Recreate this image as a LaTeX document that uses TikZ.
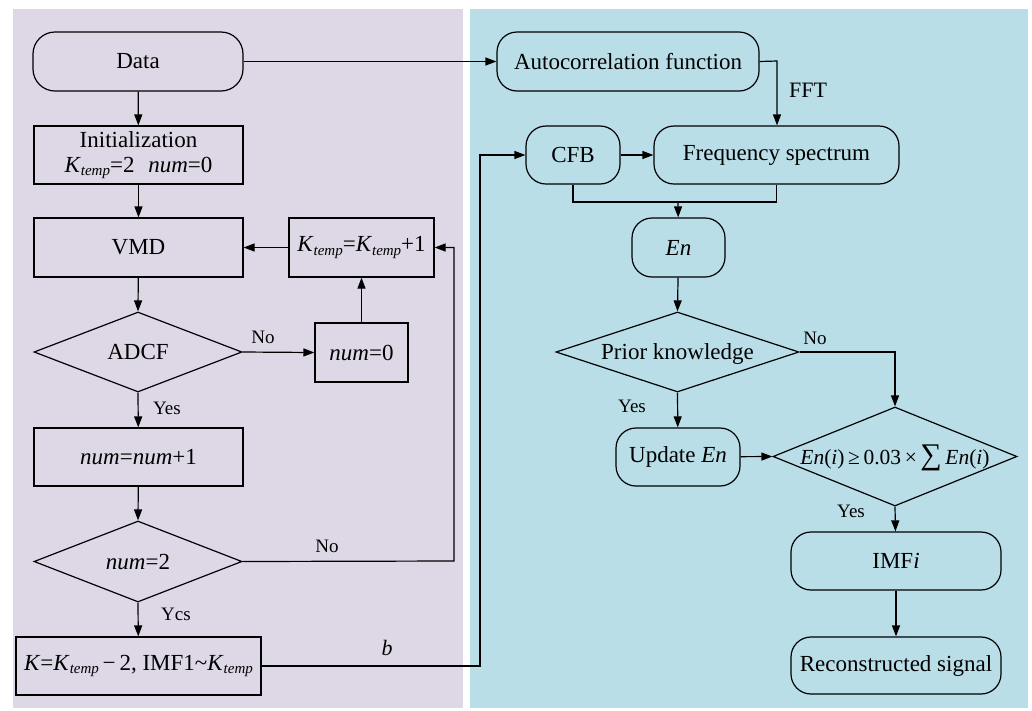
\documentclass[tikz,border=0pt]{standalone}
\usepackage{fontspec}
\setmainfont{Liberation Serif}
\usetikzlibrary{shapes.geometric,arrows.meta}
\newcommand{\mysub}[1]{\raisebox{-0.3ex}{\fontsize{15}{15}\selectfont\itshape #1}}
\newcommand{\Ktp}{\textit{K}\mysub{temp}}
\newcommand{\dtext}[1]{\makebox[0pt]{\raisebox{-0.33em}[0pt][0pt]{#1}}}
\definecolor{panelL}{RGB}{222,216,230}
\definecolor{panelR}{RGB}{185,222,232}
\tikzset{
  mainfont/.style={font=\fontsize{23}{27}\selectfont},
  box/.style={draw, line width=1.2pt, inner sep=0pt, mainfont, align=center},
  rbox/.style={box, rounded corners=20pt},
  dia/.style={draw, diamond, line width=1.2pt, inner sep=0pt, mainfont},
  arr/.style={line width=1.2pt, -{Triangle[length=11pt,width=8pt]}},
  ln/.style={line width=1.2pt},
  lab/.style={font=\fontsize{19}{19}\selectfont, inner sep=0pt},
}
\begin{document}
\begin{tikzpicture}[x=1pt,y=-1pt]
\useasboundingbox (0,0) rectangle (1032,710);
\fill[panelL] (13,9) rectangle (463,708);
\fill[panelR] (470,9) rectangle (1028,708);
% left column
\node[rbox, rounded corners=22pt, minimum width=210pt, minimum height=59pt] (data) at (138,61.5) {Data};
\node[box, minimum width=209pt, minimum height=58pt] (init) at (138.5,155) {Initialization\\[-2pt]\Ktp=2\hspace{0.6em}\textit{num}=0};
\node[box, minimum width=209pt, minimum height=59pt] (vmd) at (138.5,247.5) {VMD};
\node[box, minimum width=145pt, minimum height=59pt] (kt) at (361.5,247.5) {\Ktp=\Ktp+1};
\node[dia, minimum width=208pt, minimum height=80pt] (adcf) at (138,352) {\dtext{ADCF}};
\node[box, minimum width=93pt, minimum height=59pt] (num0) at (361.5,352.5) {\textit{num}=0};
\node[box, minimum width=209pt, minimum height=58pt] (numinc) at (138.5,457) {\textit{num}=\textit{num}+1};
\node[dia, minimum width=208pt, minimum height=81pt] (num2) at (138,561.5) {\dtext{\textit{num}=2}};
\node[box, minimum width=245pt, minimum height=58pt] (kbox) at (138.5,666) {\textit{K}=\Ktp\,−\,2, IMF1\textasciitilde\Ktp};
% right column
\node[rbox, minimum width=262pt, minimum height=59pt] (auto) at (628,61.5) {Autocorrelation function};
\node[rbox, minimum width=94pt, minimum height=58pt] (cfb) at (573,155) {CFB};
\node[rbox, minimum width=245pt, minimum height=58pt] (freq) at (776.5,155) {Frequency spectrum};
\node[rbox, minimum width=93pt, minimum height=59pt] (en) at (678.5,247.5) {\textit{En}};
\node[dia, minimum width=243pt, minimum height=80pt] (prior) at (677.5,352) {\dtext{Prior knowledge}};
\node[rbox, minimum width=124pt, minimum height=58pt] (upd) at (678,457) {Update \textit{En}};
\node[dia, minimum width=244pt, minimum height=99pt] (cond) at (895,456.5) {\dtext{\fontsize{21.5}{21.5}\selectfont\textit{En}(\textit{i})\,≥\,0.03\,×\,{\fontsize{30}{30}\selectfont ∑}\,\textit{En}(\textit{i})}};
\node[rbox, minimum width=210pt, minimum height=58pt] (imf) at (896,561) {IMF\textit{i}};
\node[rbox, minimum width=210pt, minimum height=57pt] (rec) at (896,665.5) {Reconstructed signal};
% helper coordinates
\coordinate (fbx) at (454,561);
\coordinate (bx) at (480,666);
\coordinate (fftc) at (777,61);
\coordinate (m) at (678,202);
% left connectors
\draw[arr] (data) -- (init);
\draw[arr] (init) -- (vmd);
\draw[arr] (vmd) -- (adcf.north);
\draw[arr] (adcf.east) -- (num0.west);
\draw[arr] (num0) -- (kt);
\draw[arr] (kt) -- (vmd);
\draw[arr] (adcf.south) -- (numinc);
\draw[arr] (numinc) -- (num2.north);
\draw[arr] (num2.east) -- (fbx) |- (kt.east);
\draw[arr] (num2.south) -- (kbox);
\draw[arr] (kbox.east) -- (bx) |- (cfb.west);
\draw[arr] (data.east) -- (data.east -| auto.west);
% right connectors
\draw[arr] (auto.east) -- (fftc) -- (fftc |- freq.north);
\draw[arr] (cfb) -- (freq);
\draw[ln] (cfb.south) |- (freq.south |- m) -- (freq.south);
\draw[arr] (m) -- (en);
\draw[arr] (en) -- (prior.north);
\draw[arr] (prior.south) -- (upd);
\draw[arr] (prior.east) -| (cond.north);
\draw[arr] (upd) -- (cond.west);
\draw[arr] (cond.south) -- (imf);
\draw[arr] (imf) -- (rec);
% labels
\node[lab] (l1) at (263,337) {No};
\node[lab] (l2) at (167,408) {Yes};
\node[lab] (l3) at (327,546) {No};
\node[lab] (l4) at (176,614) {Ycs};
\node[lab, font=\fontsize{22}{22}\selectfont\itshape] (l5) at (387,648) {b};
\node[lab, font=\fontsize{22}{22}\selectfont] (l6) at (808,90) {FFT};
\node[lab] (l7) at (815,338) {No};
\node[lab] (l8) at (632,406) {Yes};
\node[lab] (l9) at (851,511) {Yes};
\end{tikzpicture}
\end{document}
